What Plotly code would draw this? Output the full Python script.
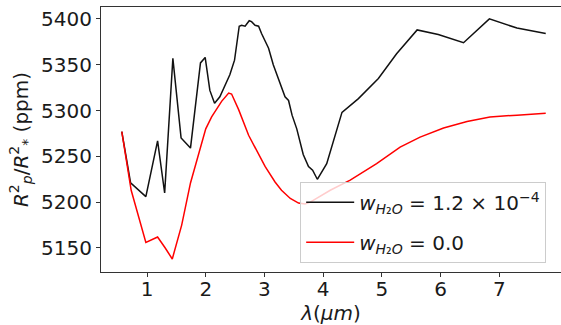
import plotly.graph_objects as go

# Black series: w_H2O = 1.2e-4
wl_black = [0.57, 0.72, 0.98, 1.18, 1.30, 1.44, 1.58, 1.74, 1.91, 1.99, 2.07, 2.15, 2.24, 2.33,
            2.41, 2.49, 2.57, 2.61, 2.67, 2.74, 2.78, 2.84, 2.90, 2.95, 3.07, 3.15, 3.27, 3.35,
            3.41, 3.47, 3.55, 3.61, 3.66, 3.75, 3.82, 3.90, 4.06, 4.32, 4.60, 4.94, 5.25, 5.60,
            5.96, 6.39, 6.83, 7.30, 7.79]
depth_black = [5277, 5221, 5206, 5267, 5210, 5357, 5270, 5259, 5352, 5358, 5322, 5308, 5315, 5328,
               5339, 5355, 5392, 5393, 5392, 5398, 5397, 5393, 5392, 5384, 5368, 5350, 5330, 5315,
               5311, 5295, 5280, 5265, 5252, 5239, 5235, 5225, 5242, 5298, 5313, 5335, 5362, 5388,
               5383, 5374, 5400, 5390, 5384]

# Red series: w_H2O = 0.0
wl_red = [0.57, 0.73, 0.98, 1.18, 1.31, 1.43, 1.59, 1.74, 2.00, 2.10, 2.27, 2.39, 2.44, 2.56,
          2.73, 2.86, 3.01, 3.18, 3.29, 3.44, 3.58, 3.69, 3.78, 4.12, 4.46, 4.91, 5.31, 5.65,
          6.05, 6.45, 6.84, 7.30, 7.79]
depth_red = [5277, 5213, 5156, 5162, 5150, 5138, 5175, 5221, 5280, 5293, 5310, 5319, 5318, 5301,
             5273, 5257, 5239, 5222, 5213, 5204, 5199, 5198, 5200, 5213, 5224, 5242, 5260, 5271,
             5281, 5288, 5293, 5295, 5297]

x_ticks = [1, 2, 3, 4, 5, 6, 7]
y_ticks = [5150, 5200, 5250, 5300, 5350, 5400]

label_black = "<i>w</i><sub><i>H</i>₂<i>O</i></sub> = 1.2 × 10<sup>−4</sup>"
label_red = "<i>w</i><sub><i>H</i>₂<i>O</i></sub> = 0.0"

FONT = "DejaVu Sans"
TXT = "#1a1a1a"

fig = go.Figure()
fig.add_trace(go.Scatter(x=wl_black, y=depth_black, mode="lines", name=label_black,
                         line=dict(color="#111111", width=1.5), legendgroup="a"))
fig.add_trace(go.Scatter(x=wl_red, y=depth_red, mode="lines", name=label_red,
                         line=dict(color="#ff0000", width=1.5), legendgroup="b"))

fig.update_layout(
    width=561, height=325,
    margin=dict(l=101, r=0, t=7, b=53, autoexpand=False),
    paper_bgcolor="white", plot_bgcolor="white",
    font=dict(family=FONT, size=20, color=TXT),
    showlegend=True,
    legend=dict(x=0.433, xanchor="left", y=0.035, yanchor="bottom",
                bgcolor="rgba(255,255,255,0.8)", bordercolor="#cccccc", borderwidth=1,
                font=dict(family=FONT, size=20, color=TXT), tracegroupgap=11,
                itemwidth=48),
    xaxis=dict(range=[0.216, 8.05], tickvals=x_ticks, ticks="outside", ticklen=4,
               tickcolor="#333333", showline=True, linecolor="#333333", linewidth=1,
               mirror=True, showgrid=False, zeroline=False, automargin=False,
               ticklabelstandoff=-5,
               tickfont=dict(family=FONT, size=20, color=TXT),
               title=dict(text="<i>λ</i>(<i>μm</i>)", standoff=4,
                          font=dict(family=FONT, size=20, color=TXT))),
    yaxis=dict(range=[5123.8, 5413], tickvals=y_ticks, ticks="outside", ticklen=4,
               tickcolor="#333333", showline=True, linecolor="#333333", linewidth=1,
               mirror=False, showgrid=False, zeroline=False, automargin=False,
               tickfont=dict(family=FONT, size=20, color=TXT),
               title=dict(text="<i>R</i><sup>2</sup><sub><i>p</i></sub>/<i>R</i><sup>2</sup><sub>*</sub> (ppm)",
                          standoff=7, font=dict(family=FONT, size=20, color=TXT))),
)

fig.write_html("out.html", config={"displayModeBar": False},
               post_script="document.body.style.margin='0';document.body.style.overflow='hidden';")
